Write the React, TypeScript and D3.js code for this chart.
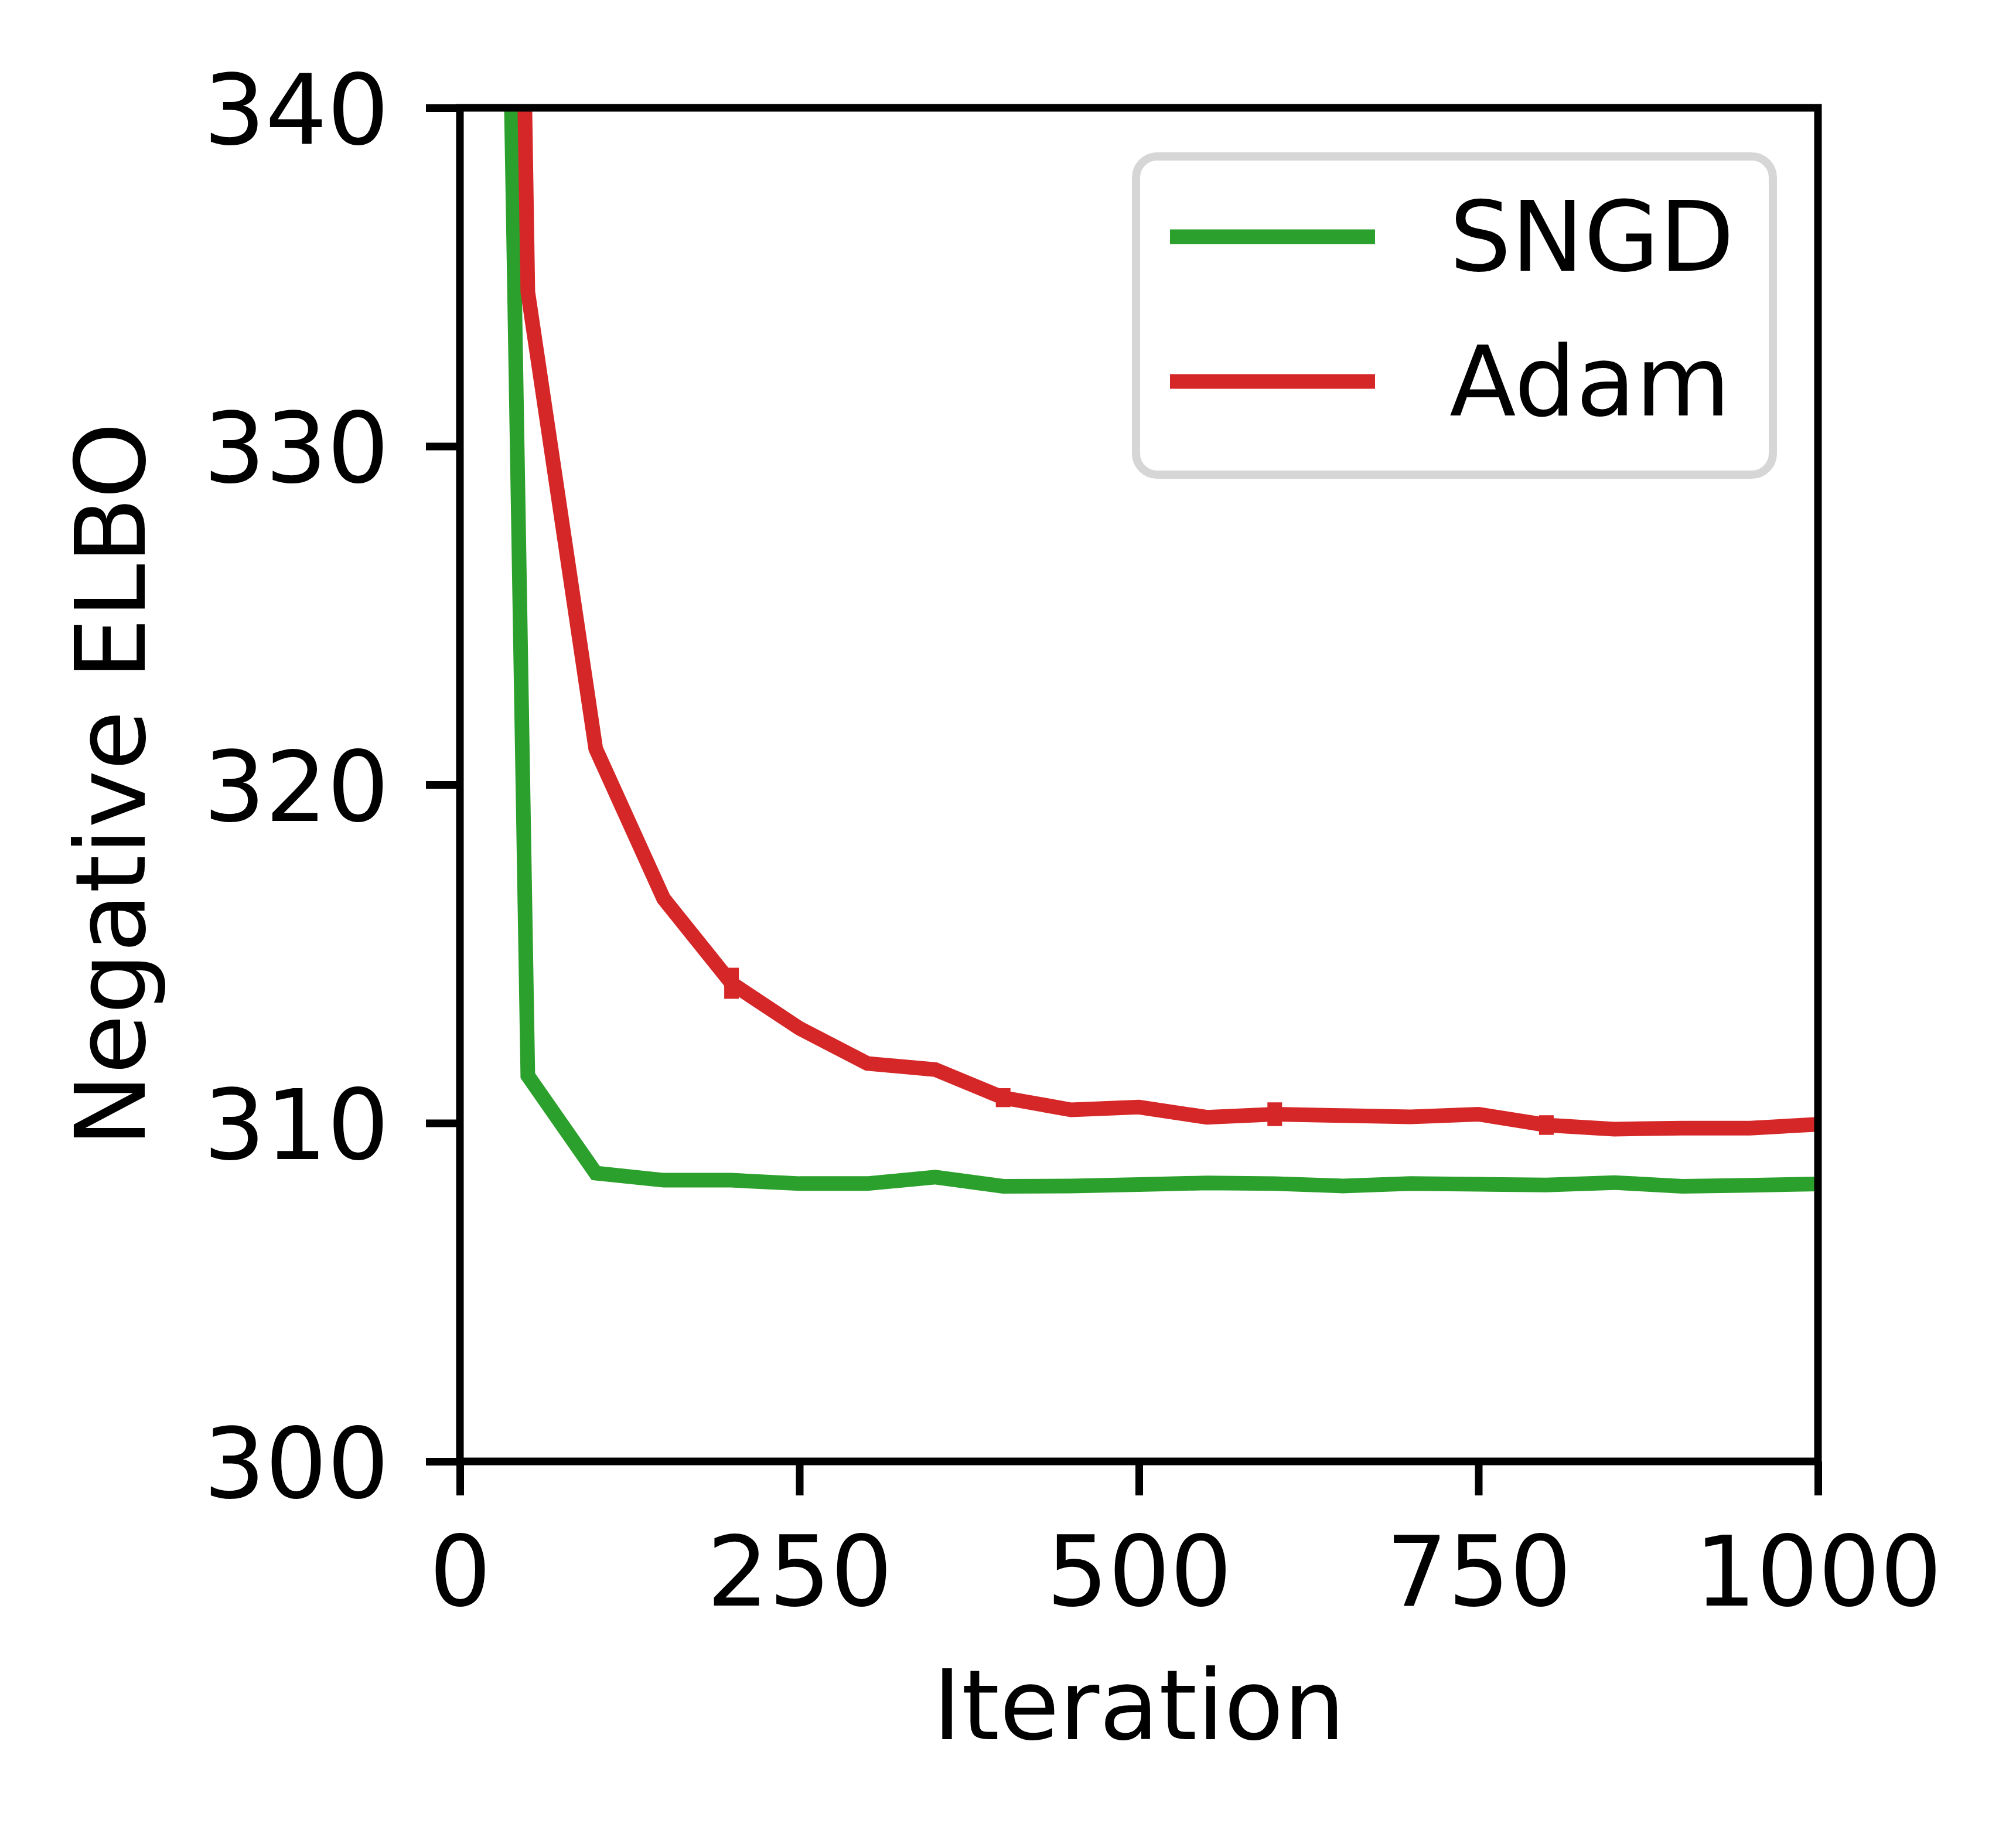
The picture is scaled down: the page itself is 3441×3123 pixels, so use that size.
import * as d3 from 'd3';
import { useEffect, useRef } from 'react';

// iterations and negative ELBO per optimiser
const iterations = [0, 50, 100, 150, 200, 250, 300, 350, 400, 450, 500, 550, 600, 650, 700, 750, 800, 850, 900, 950, 1000];
const sngd = [430, 311.4, 308.52, 308.31, 308.31, 308.21, 308.21, 308.4, 308.13, 308.14, 308.18, 308.23, 308.21, 308.14, 308.21, 308.19, 308.17, 308.24, 308.13, 308.16, 308.2];
const adam = [460, 334.56, 321.06, 316.63, 314.13, 312.8, 311.76, 311.58, 310.75, 310.39, 310.47, 310.17, 310.26, 310.22, 310.18, 310.26, 309.94, 309.82, 309.85, 309.85, 309.96];
// error bars every 200 iterations
const errIters = [200, 400, 600, 800];
const sngdErr = [0.1, 0.08, 0.08, 0.08];
const adamErr = [0.46, 0.28, 0.35, 0.29];

const xTicks = [0, 250, 500, 750, 1000];
const yTicks = [300, 310, 320, 330, 340];
const seriesNames = ['SNGD', 'Adam'];
const colors = ['#2ca02c', '#d62728'];

const App = () => {
    const ref = useRef<SVGSVGElement>(null);
    useEffect(() => {
        DrawChart();
    }, []);
    const DrawChart = () => {
        var W = 3441, H = 3123;
        var left = 785, right = 3103, top = 184, bottom = 2494;
        var font = 'DejaVu Sans, sans-serif';
        var fs = 166;
        var svg = d3.select(ref.current);
        svg.selectAll('*').remove();
        svg.attr('width', W).attr('height', H);
        svg.append('rect').attr('width', W).attr('height', H).attr('fill', '#fff');

        var x = d3.scaleLinear().domain([0, 1000]).range([left, right]);
        var y = d3.scaleLinear().domain([300, 340]).range([bottom, top]);

        svg.append('clipPath').attr('id', 'plotclip')
            .append('rect')
            .attr('x', left).attr('y', top)
            .attr('width', right - left).attr('height', bottom - top);

        var plot = svg.append('g').attr('clip-path', 'url(#plotclip)');
        var line = d3.line<number>()
            .x(function (_d, i) { return x(iterations[i]); })
            .y(function (d) { return y(d); });

        [sngd, adam].forEach(function (vals, k) {
            plot.append('path')
                .datum(vals)
                .attr('d', line)
                .attr('fill', 'none')
                .attr('stroke', colors[k])
                .attr('stroke-width', 25)
                .attr('stroke-linejoin', 'miter');
            var errs = k === 0 ? sngdErr : adamErr;
            plot.selectAll('.err' + k)
                .data(errIters)
                .enter().append('line')
                .attr('x1', function (d) { return x(d); })
                .attr('x2', function (d) { return x(d); })
                .attr('y1', function (d, i) { return y(vals[iterations.indexOf(d)] + errs[i]); })
                .attr('y2', function (d, i) { return y(vals[iterations.indexOf(d)] - errs[i]); })
                .attr('stroke', colors[k])
                .attr('stroke-width', 25);
        });

        // axes
        var xAxis = svg.append('g')
            .attr('transform', 'translate(0,' + bottom + ')')
            .call(d3.axisBottom(x).tickValues(xTicks).tickFormat(d3.format('d')).tickSize(58).tickSizeOuter(0).tickPadding(0));
        xAxis.select('.domain').remove();
        xAxis.selectAll('line').attr('stroke', '#000').attr('stroke-width', 13);
        xAxis.selectAll('text')
            .attr('y', 246).attr('dy', null)
            .attr('font-family', font).attr('font-size', fs).attr('fill', '#000');

        var yAxis = svg.append('g')
            .attr('transform', 'translate(' + left + ',0)')
            .call(d3.axisLeft(y).tickValues(yTicks).tickFormat(d3.format('d')).tickSize(58).tickSizeOuter(0).tickPadding(0));
        yAxis.select('.domain').remove();
        yAxis.selectAll('line').attr('stroke', '#000').attr('stroke-width', 13);
        yAxis.selectAll('text')
            .attr('x', -121).attr('dy', null).attr('y', 61)
            .attr('font-family', font).attr('font-size', fs).attr('fill', '#000');

        // frame
        svg.append('rect')
            .attr('x', left).attr('y', top)
            .attr('width', right - left).attr('height', bottom - top)
            .attr('fill', 'none').attr('stroke', '#000').attr('stroke-width', 13);

        // axis labels
        svg.append('text')
            .attr('x', (left + right) / 2).attr('y', 2968)
            .attr('text-anchor', 'middle')
            .attr('font-family', font).attr('font-size', fs)
            .text('Iteration');
        svg.append('text')
            .attr('text-anchor', 'middle')
            .attr('font-family', font).attr('font-size', fs)
            .attr('transform', 'translate(247,' + (top + bottom) / 2 + ')rotate(-90)')
            .text('Negative ELBO');

        // legend
        var lg = svg.append('g');
        lg.append('rect')
            .attr('x', 1939).attr('y', 267)
            .attr('width', 1087).attr('height', 543)
            .attr('rx', 36).attr('ry', 36)
            .attr('fill', '#fff').attr('fill-opacity', 0.8)
            .attr('stroke', '#d6d6d6').attr('stroke-width', 14);
        seriesNames.forEach(function (name, i) {
            var cy = 404 + i * 247;
            lg.append('line')
                .attr('x1', 1997).attr('x2', 2347)
                .attr('y1', cy).attr('y2', cy)
                .attr('stroke', colors[i]).attr('stroke-width', 25);
            lg.append('text')
                .attr('x', 2474).attr('y', cy + 58)
                .attr('font-family', font).attr('font-size', fs)
                .text(name);
        });
    };
    return (
        <div style={{ position: 'absolute', left: 0, top: 0 }}>
            <svg ref={ref} style={{ display: 'block' }}></svg>
        </div>
    );
};
export default App;
